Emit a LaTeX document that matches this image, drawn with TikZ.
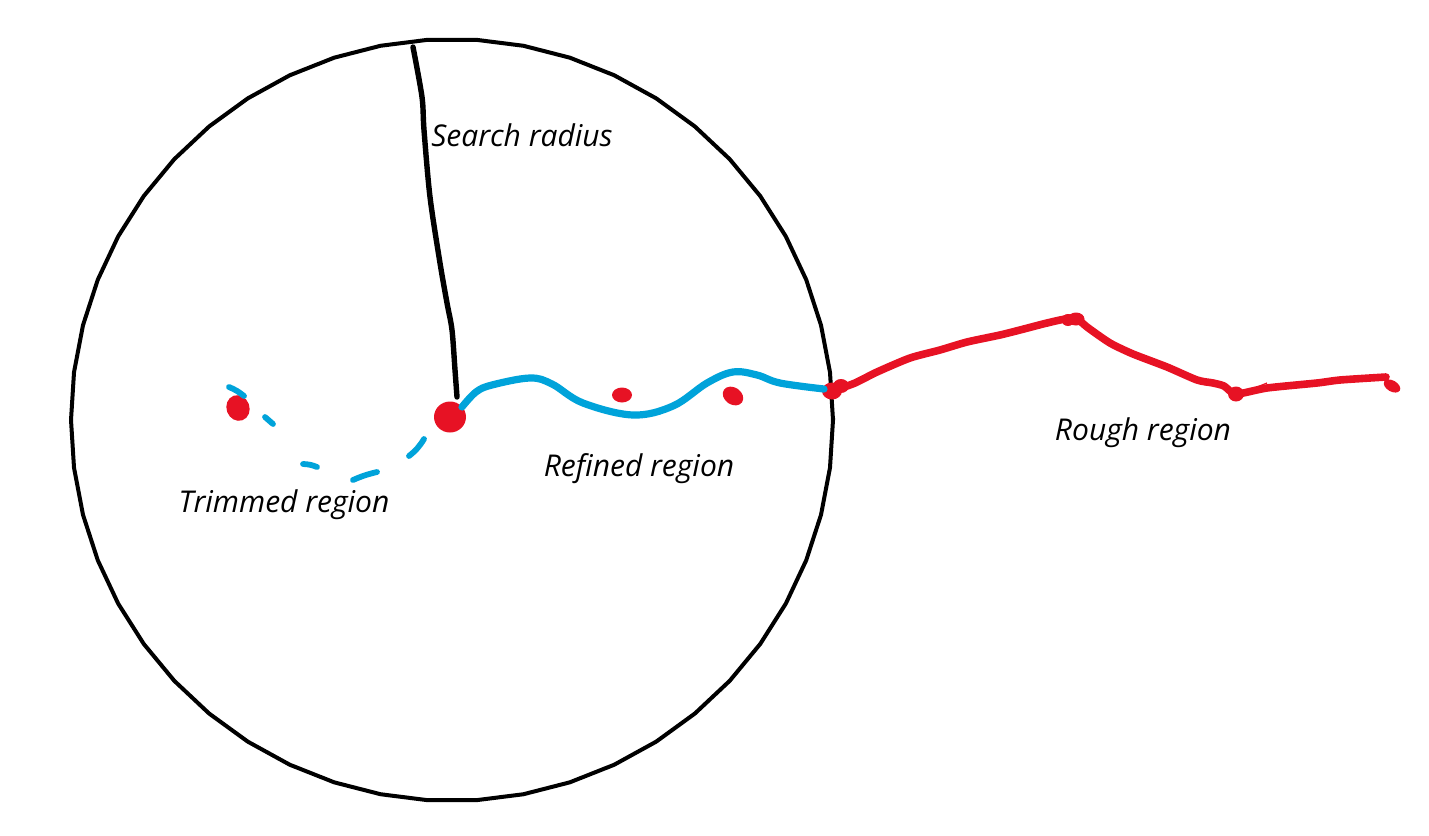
\documentclass[tikz,border=0pt]{standalone}
\usepackage{fontspec}
\setmainfont{Open Sans}
\usetikzlibrary{shapes.geometric}
\definecolor{inkred}{HTML}{E71224}
\definecolor{inkblue}{HTML}{00A3DA}
\begin{document}
\begin{tikzpicture}[x=0.5pt,y=-0.5pt,
  rim/.style={line width=2pt,black,line join=miter},
  radiusline/.style={line width=2.7pt,black,line cap=round},
  blueline/.style={line width=3.6pt,inkblue,line cap=round,line join=round},
  bluedash/.style={line width=2.9pt,inkblue,line cap=round},
  redline/.style={line width=3.8pt,inkred,line cap=round,line join=round},
  reddot/.style={ellipse,fill=inkred,draw=none,inner sep=0pt},
  lbl/.style={anchor=base,font=\fontsize{15pt}{17pt}\selectfont\itshape,inner sep=0pt}]
\useasboundingbox (0,0) rectangle (1429,835);
% circle (50-gon)
\draw[rim] plot[samples=51,domain=0:50] ({452+381*cos(7.2*\x)},{420+381*sin(7.2*\x)}) -- cycle;
\coordinate (top) at (413,47);
% red dots
\node[reddot,minimum width=32pt*0.5,minimum height=31pt*0.5] (center) at (450,417) {};
\node[reddot,minimum width=23pt*0.5,minimum height=26pt*0.5,rotate=20] (left) at (238,408) {};
\node[reddot,minimum width=20pt*0.5,minimum height=15pt*0.5] (mid1) at (622,395) {};
\node[reddot,minimum width=22pt*0.5,minimum height=17pt*0.5,rotate=-35] (mid2) at (733,396) {};
\node[reddot,minimum width=20pt*0.5,minimum height=17pt*0.5] (edge) at (832,391) {};
\node[reddot,minimum width=16pt*0.5,minimum height=14pt*0.5] (edge2) at (841,386) {};
\node[reddot,minimum width=17pt*0.5,minimum height=13pt*0.5] (kink1) at (1076,319) {};
\node[reddot,minimum width=13pt*0.5,minimum height=12pt*0.5] (kink1b) at (1068,320) {};
\node[reddot,minimum width=16pt*0.5,minimum height=15pt*0.5] (kink2) at (1236,394) {};
\node[reddot,minimum width=18pt*0.5,minimum height=11pt*0.5,rotate=-30] (tail) at (1392,386) {};
% search radius line
\draw[radiusline] plot[smooth,tension=0.5] coordinates {(413,47) (422,97) (424,130) (430,197) (440,263) (447,303) (452,330) (455,370) (457,397)};
% refined region (blue)
\draw[blueline] plot[smooth,tension=0.6] coordinates {(462,407) (476,392) (492,385) (530,378) (552,384) (583,403) (633,415) (673,406) (707,383) (733,372) (757,375) (780,383) (824,389)};
% trimmed region (blue dashes)
\draw[bluedash] (229,387) to[bend left=8] (244,396);
\draw[bluedash] (265,417) -- (273,424);
\draw[bluedash] (303,464) to[bend left=10] (317,467);
\draw[bluedash] (353,480) to[bend left=5] (377,472);
\draw[bluedash] (409,456) to[bend right=10] (424,439);
% rough region (red)
\draw[redline] plot[smooth,tension=0.4] coordinates {(833,391) (855,383) (877,372) (910,358) (940,350) (967,342) (1000,335) (1020,330) (1043,324) (1060,320) (1077,317)};
\draw[redline] plot[smooth,tension=0.4] coordinates {(1077,318) (1087,327) (1110,343) (1133,354) (1167,367) (1197,380) (1213,383) (1224,386) (1236,394) (1267,388) (1317,383) (1340,380) (1386,377)};
\draw[inkred,line width=0.6pt] (1257,387) -- (1267,383);
% labels
\node[lbl] (lsearch) at (522,146) {Search radius};
\node[lbl] (ltrim) at (284,512) {Trimmed region};
\node[lbl] (lref) at (639,476) {Refined region};
\node[lbl] (lrough) at (1143,440) {Rough region};
\end{tikzpicture}
\end{document}
